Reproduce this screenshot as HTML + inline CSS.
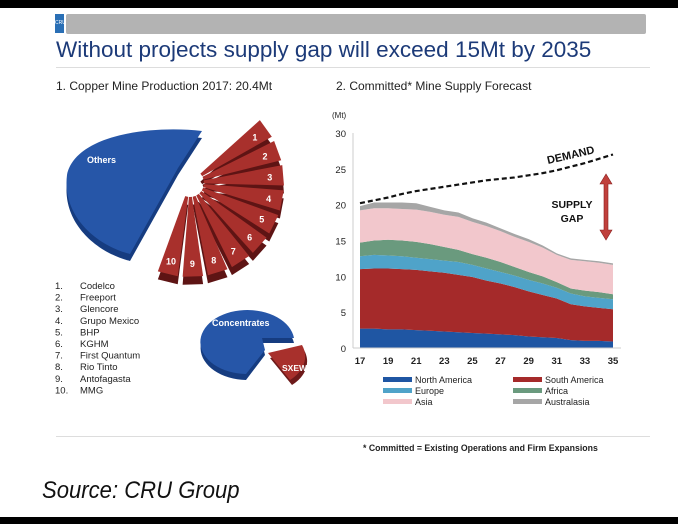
<!DOCTYPE html>
<html><head><meta charset="utf-8">
<style>
html,body{margin:0;padding:0;background:#fff;}
body{width:678px;height:524px;position:relative;overflow:hidden;font-family:"Liberation Sans",Arial,sans-serif;}
.abs{position:absolute;}
</style></head>
<body>
<div class="abs" style="left:0;top:0;width:678px;height:8px;background:#000"></div>
<div class="abs" style="left:0;top:517px;width:678px;height:7px;background:#000"></div>
<div class="abs" style="left:55px;top:14px;width:9px;height:19px;background:#2a6fb5;color:#fff;font-size:5px;line-height:19px;text-align:center;">CRU</div>
<div class="abs" style="left:66px;top:14px;width:580px;height:20px;background:#b3b3b3;border-radius:2px"></div>
<div class="abs" style="left:56px;top:37px;font-size:22.5px;color:#1c3a78;white-space:nowrap">Without projects supply gap will exceed 15Mt by 2035</div>
<div class="abs" style="left:56px;top:67px;width:594px;height:1px;background:#ddd"></div>
<div class="abs" style="left:56px;top:79px;font-size:12px;color:#222">1. Copper Mine Production 2017: 20.4Mt</div>
<div class="abs" style="left:336px;top:79px;font-size:12px;color:#222">2. Committed* Mine Supply Forecast</div>
<div class="abs" style="left:56px;top:436px;width:594px;height:1px;background:#ddd"></div>
<div class="abs" style="left:363px;top:443px;font-size:9.5px;color:#222;font-weight:bold;transform:scaleX(0.92);transform-origin:left">* Committed = Existing Operations and Firm Expansions</div>
<div class="abs" style="left:42px;top:477px;font-size:24px;font-style:italic;color:#111;transform:scaleX(0.92);transform-origin:left">Source: CRU Group</div>

<svg class="abs" style="left:0;top:0" width="340" height="420" id="pies">
  <g>
    <path d="M202,138 C150,132 75,142 67,182 C62,222 95,252 130,261 L178,175 Z" fill="#163c80"/>
    <path d="M202,131 C150,125 75,135 67,175 C62,215 95,245 130,254 L178,168 Z" fill="#2656a8"/>
    <text x="87" y="163" fill="#fff" font-size="9" font-weight="bold" font-family="Liberation Sans">Others</text>
  </g>
  <g id="fan"></g>
  <g>
    <path d="M294,343 L262,343 L265,355 L246,380 A47 32 0 1 1 294,343 Z" fill="#163c80"/>
    <path d="M294,338 L262,338 L265,350 L246,374 A47 32 0 1 1 294,338 Z" fill="#2656a8"/>
    <text x="212" y="326" fill="#fff" font-size="9" font-weight="bold" font-family="Liberation Sans">Concentrates</text>
  </g>
  <g>
    <path d="M270,358 L304,350 A47 32 0 0 1 292,385 Z" fill="#6d1a1a"/>
    <path d="M268,353 L302,345 A47 32 0 0 1 290,380 Z" fill="#a8302c"/>
    <text x="282" y="371" fill="#fff" font-size="8.5" font-weight="bold" font-family="Liberation Sans">SXEW</text>
  </g>
  <g id="complist" font-family="Liberation Sans" font-size="9.5" fill="#222"></g>
</svg>

<svg class="abs" style="left:320px;top:100px" width="340" height="320" id="chart" font-family="Liberation Sans"></svg>

<script>
const NS='http://www.w3.org/2000/svg';
function mk(p,t,a){const e=document.createElementNS(NS,t);for(const k in a)e.setAttribute(k,a[k]);p.appendChild(e);return e;}
const companies=['Codelco','Freeport','Glencore','Grupo Mexico','BHP','KGHM','First Quantum','Rio Tinto','Antofagasta','MMG'];
const fan=document.getElementById('fan');
const cx=190,cy=183;
for(let i=0;i<10;i++){
  const a0=(-42+i*15.5)*Math.PI/180,a1=(-42+i*15.5+12.5)*Math.PI/180;
  const r0=14,r1=94;
  const pts=(dy)=>`M${cx+r0*Math.cos(a0)},${cy+r0*Math.sin(a0)+dy} L${cx+r1*Math.cos(a0)},${cy+r1*Math.sin(a0)+dy} L${cx+r1*Math.cos(a1)},${cy+r1*Math.sin(a1)+dy} L${cx+r0*Math.cos(a1)},${cy+r0*Math.sin(a1)+dy} Z`;
  const g=mk(fan,'g',{});
  
  
  mk(g,'path',{d:pts(8),fill:'#5e1414'});
  mk(g,'path',{d:pts(0),fill:'#a8302c'});
  const am=(a0+a1)/2,rl=80;
  const t=mk(g,'text',{x:cx+rl*Math.cos(am),y:cy+rl*Math.sin(am)+4,fill:'#fff','font-size':'9','font-weight':'bold','text-anchor':'middle','font-family':'Liberation Sans'});
  t.textContent=String(i+1);
}
const cl=document.getElementById('complist');
companies.forEach((c,i)=>{
  const y=289+i*11.6;
  const n=mk(cl,'text',{x:55,y:y});n.textContent=(i+1)+'.';
  
  
  const t=mk(cl,'text',{x:80,y:y});t.textContent=c;
  
  
});

const years=[17,18,19,20,21,22,23,24,25,26,27,28,29,30,31,32,33,34,35];
const xTicks=['17','19','21','23','25','27','29','31','33','35'];
const yTicks=[0,5,10,15,20,25,30];
const northAmerica=[2.7,2.7,2.6,2.6,2.5,2.4,2.3,2.2,2.1,2.0,1.9,1.8,1.6,1.5,1.4,1.1,1.0,1.0,0.9];
const southAmerica=[8.3,8.4,8.5,8.4,8.4,8.3,8.2,8.0,7.8,7.4,7.1,6.7,6.3,5.9,5.5,5.0,4.8,4.6,4.5];
const europe=[1.8,1.9,1.8,1.8,1.7,1.7,1.7,1.8,1.7,1.7,1.6,1.6,1.6,1.6,1.5,1.5,1.4,1.4,1.4];
const africa=[1.9,2.0,2.2,2.2,2.2,2.1,1.9,1.7,1.5,1.5,1.4,1.2,1.1,1.0,0.8,0.7,0.8,0.8,0.7];
const asia=[4.5,4.5,4.4,4.4,4.5,4.5,4.5,4.6,4.5,4.4,4.3,4.2,4.2,4.0,3.8,4.0,4.1,4.1,4.1];
const australasia=[0.6,0.8,0.8,0.9,0.9,0.7,0.6,0.6,0.5,0.5,0.4,0.4,0.4,0.3,0.2,0.2,0.2,0.2,0.2];
const demand=[20.2,20.6,21.0,21.5,21.9,22.2,22.5,22.8,23.1,23.4,23.6,23.8,24.1,24.4,24.8,25.3,25.8,26.4,27.0];
const seriesNames=['North America','South America','Europe','Africa','Asia','Australasia'];
const seriesColors=['#1f56a3','#a52a2a','#4fa3c9','#6a9a7e','#f2c7cc','#a6a6a6'];
const series=[northAmerica,southAmerica,europe,africa,asia,australasia];

const svg=document.getElementById('chart');
const X0=40,X1=293,Y0=248,Y1=33;
const xs=y=>X0+(y-17)/(35-17)*(X1-X0);
const ys=v=>Y0-v/30*(Y0-Y1);
let base=years.map(()=>0);
series.forEach((s,k)=>{
  const top=base.map((b,i)=>b+s[i]);
  let d='M'+years.map((y,i)=>xs(y)+','+ys(top[i])).join(' L');
  for(let i=years.length-1;i>=0;i--) d+=' L'+xs(years[i])+','+ys(base[i]);
  const p=mk(svg,'path',{d:d+' Z',fill:seriesColors[k]});
  
  
  base=top;
});
const ax=mk(svg,'line',{x1:X0-7,y1:Y1,x2:X0-7,y2:Y0,stroke:'#ccc','stroke-width':1});


const bx=mk(svg,'line',{x1:X0-7,y1:Y0,x2:X1+8,y2:Y0,stroke:'#ccc','stroke-width':1});


yTicks.forEach(v=>{
  const t=mk(svg,'text',{x:X0-14,y:ys(v)+4,'font-size':'9.5','text-anchor':'end',fill:'#222'});
  t.textContent=v;
  
  
});
xTicks.forEach(l=>{
  const t=mk(svg,'text',{x:xs(+l),y:Y0+16,'font-size':'9.5','text-anchor':'middle',fill:'#222','font-weight':'bold'});
  t.textContent=l;
  
  
});
const unit=mk(svg,'text',{x:12,y:18,'font-size':'8',fill:'#222'});unit.textContent='(Mt)';


const dl=mk(svg,'polyline',{points:years.map((y,i)=>xs(y)+','+ys(demand[i])).join(' '),fill:'none',stroke:'#111','stroke-width':2.2,'stroke-dasharray':'5,3'});


const dt=mk(svg,'text',{x:228,y:64,'font-size':'11','font-weight':'bold',fill:'#111',transform:'rotate(-13 228 64)'});dt.textContent='DEMAND';


const s1=mk(svg,'text',{x:252,y:108,'font-size':'10.5','font-weight':'bold','text-anchor':'middle',fill:'#111'});s1.textContent='SUPPLY';


const s2=mk(svg,'text',{x:252,y:122,'font-size':'10.5','font-weight':'bold','text-anchor':'middle',fill:'#111'});s2.textContent='GAP';


const ar=mk(svg,'path',{d:'M286,74 L280,84 L284,84 L284,130 L280,130 L286,140 L292,130 L288,130 L288,84 L292,84 Z',fill:'#c0403c',stroke:'#8a1f1f','stroke-width':0.6});


seriesNames.forEach((n,k)=>{
  const col=k%2,row=Math.floor(k/2);
  const x=col?193:63,y=277+row*11;
  const r=mk(svg,'rect',{x:x,y:y,width:29,height:5,fill:seriesColors[k]});
  
  
  const t=mk(svg,'text',{x:x+32,y:y+6,'font-size':'9',fill:'#222'});t.textContent=n;
  
  
});
</script>
</body></html>
